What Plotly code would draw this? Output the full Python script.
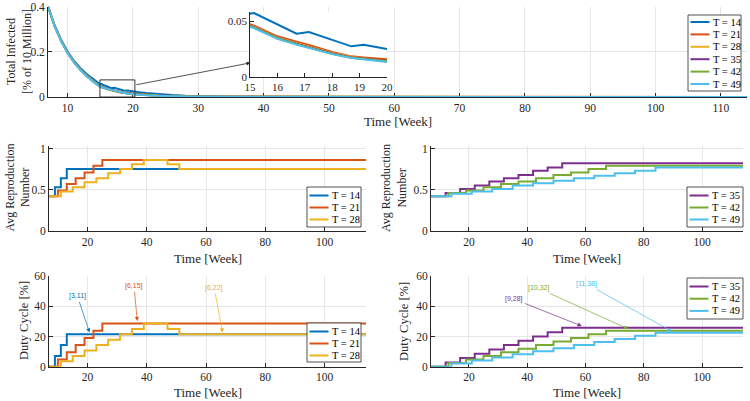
import plotly.graph_objects as go

W, H = 750, 401
SERIF = "Liberation Serif"
AXC = "#262626"

labels = ["T = 14", "T = 21", "T = 28", "T = 35", "T = 42", "T = 49"]
colors = ["#0072BD", "#D95319", "#EDB120", "#7E2F8E", "#77AC30", "#4DBEEE"]

# ---- Total infected (% of 10 million) ----
weeks_inf = [7, 8, 9, 10, 11, 12, 13, 14, 15, 15.15, 16, 16.7, 17.15, 18, 18.7, 19.15, 20,
             21, 22, 23, 24, 25, 26, 28, 30, 35, 40, 50, 60, 80, 100, 114]
inf_T14 = [0.400, 0.318, 0.253, 0.201, 0.159, 0.126, 0.099, 0.076, 0.0564, 0.0570, 0.0470, 0.0387,
           0.0403, 0.0333, 0.0275, 0.0290, 0.0242, 0.0205, 0.0172, 0.0144, 0.0120, 0.0100, 0.0084,
           0.0059, 0.0041, 0.0016, 0.0007, 0.0003, 0.0002, 0.0001, 0.0001, 0.0001]
inf_T21 = [0.400, 0.316, 0.250, 0.197, 0.155, 0.121, 0.094, 0.068, 0.0473, 0.0458, 0.0364, 0.0316,
           0.0288, 0.0226, 0.0186, 0.0176, 0.0151, 0.0124, 0.0101, 0.0083, 0.0068, 0.0056, 0.0046,
           0.0032, 0.0023, 0.0012, 0.0010, 0.0008, 0.0006, 0.0004, 0.0003, 0.0003]
inf_T28 = [0.400, 0.315, 0.249, 0.196, 0.154, 0.120, 0.092, 0.067, 0.0460, 0.0448, 0.0352, 0.0300,
           0.0272, 0.0215, 0.0180, 0.0163, 0.0136, 0.0110, 0.0089, 0.0072, 0.0058, 0.0047, 0.0038,
           0.0025, 0.0017, 0.0007, 0.0004, 0.0002, 0.0001, 0.0001, 0.0001, 0.0001]
inf_T35 = [0.400, 0.315, 0.249, 0.195, 0.153, 0.119, 0.091, 0.066, 0.0455, 0.0443, 0.0348, 0.0296,
           0.0268, 0.0211, 0.0176, 0.0160, 0.0132, 0.0107, 0.0086, 0.0069, 0.0056, 0.0045, 0.0036,
           0.0024, 0.0016, 0.0006, 0.0003, 0.0001, 0.0001, 0.0001, 0.0001, 0.0001]
inf_T42 = [0.400, 0.314, 0.248, 0.195, 0.153, 0.119, 0.091, 0.066, 0.0451, 0.0440, 0.0345, 0.0293,
           0.0265, 0.0208, 0.0174, 0.0158, 0.0127, 0.0103, 0.0083, 0.0067, 0.0054, 0.0043, 0.0035,
           0.0023, 0.0015, 0.0006, 0.0003, 0.0001, 0.0001, 0.0001, 0.0001, 0.0001]
inf_T49 = [0.400, 0.314, 0.248, 0.194, 0.152, 0.118, 0.090, 0.065, 0.0448, 0.0437, 0.0342, 0.0290,
           0.0262, 0.0206, 0.0172, 0.0156, 0.0121, 0.0098, 0.0079, 0.0064, 0.0052, 0.0042, 0.0034,
           0.0022, 0.0014, 0.0005, 0.0002, 0.0001, 0.0001, 0.0001, 0.0001, 0.0001]
inf_all = [inf_T14, inf_T21, inf_T28, inf_T35, inf_T42, inf_T49]

# ---- Step changes (week of change) with Avg reproduction number and duty cycle ----
wk_T14 = [7, 9, 11, 13, 114]
R_T14 = [0.42, 0.53, 0.64, 0.75, 0.75]
D_T14 = [0, 7.14, 14.29, 21.43, 21.43]

wk_T21 = [7, 10, 13, 16, 19, 22, 25, 114]
R_T21 = [0.42, 0.49, 0.57, 0.64, 0.71, 0.79, 0.86, 0.86]
D_T21 = [0, 4.76, 9.52, 14.29, 19.05, 23.81, 28.57, 28.57]

wk_T28 = [7, 11, 15, 19, 23, 27, 31, 35, 39, 47, 51, 114]
R_T28 = [0.42, 0.48, 0.53, 0.59, 0.64, 0.70, 0.75, 0.81, 0.86, 0.81, 0.75, 0.75]
D_T28 = [0, 3.57, 7.14, 10.71, 14.29, 17.86, 21.43, 25.0, 28.57, 25.0, 21.43, 21.43]

wk_T35 = [7, 12, 17, 22, 27, 32, 37, 42, 47, 52, 114]
R_T35 = [0.42, 0.46, 0.51, 0.55, 0.60, 0.64, 0.68, 0.73, 0.77, 0.82, 0.82]
D_T35 = [0, 2.86, 5.71, 8.57, 11.43, 14.29, 17.14, 20.0, 22.86, 25.71, 25.71]

wk_T42 = [7, 13, 19, 25, 31, 37, 43, 49, 55, 61, 67, 114]
R_T42 = [0.42, 0.46, 0.49, 0.53, 0.57, 0.60, 0.64, 0.68, 0.71, 0.75, 0.79, 0.79]
D_T42 = [0, 2.38, 4.76, 7.14, 9.52, 11.90, 14.29, 16.67, 19.05, 21.43, 23.81, 23.81]

wk_T49 = [7, 14, 21, 28, 35, 42, 49, 56, 63, 70, 77, 84, 114]
R_T49 = [0.42, 0.45, 0.48, 0.51, 0.55, 0.58, 0.61, 0.64, 0.67, 0.70, 0.73, 0.77, 0.77]
D_T49 = [0, 2.04, 4.08, 6.12, 8.16, 10.20, 12.24, 14.29, 16.33, 18.37, 20.41, 22.45, 22.45]

wk_all = [wk_T14, wk_T21, wk_T28, wk_T35, wk_T42, wk_T49]
R_all = [R_T14, R_T21, R_T28, R_T35, R_T42, R_T49]
D_all = [D_T14, D_T21, D_T28, D_T35, D_T42, D_T49]

# annotations: (text, series index, text x, text y, arrow x, arrow y)
duty_notes = [("[3,11]", 0, 16.6, 46.5, 20.7, 22.6),
              ("[6,15]", 1, 35.7, 53.4, 36.8, 30.2),
              ("[6,22]", 2, 62.8, 51.9, 65.6, 22.6),
              ("[9,28]", 3, 35.6, 44.6, 58.7, 26.9),
              ("[10,32]", 4, 43.8, 51.9, 74.6, 25.0),
              ("[11,38]", 5, 60.4, 54.7, 89.6, 23.4)]

fig = go.Figure()

# top main + inset
for i in range(6):
    fig.add_trace(go.Scatter(x=weeks_inf, y=inf_all[i], mode="lines", name=labels[i],
                             line=dict(color=colors[i], width=2), showlegend=False,
                             xaxis="x", yaxis="y"))
for i in range(6):
    fig.add_trace(go.Scatter(x=weeks_inf, y=inf_all[i], mode="lines", name=labels[i],
                             line=dict(color=colors[i], width=2), showlegend=False,
                             xaxis="x2", yaxis="y2"))
# middle and bottom
for i in range(6):
    xa_r = "x3" if i < 3 else "x4"
    ya_r = "y3" if i < 3 else "y4"
    xa_d = "x5" if i < 3 else "x6"
    ya_d = "y5" if i < 3 else "y6"
    fig.add_trace(go.Scatter(x=wk_all[i], y=R_all[i], mode="lines", line_shape="hv",
                             name=labels[i], line=dict(color=colors[i], width=2),
                             showlegend=False, xaxis=xa_r, yaxis=ya_r))
    fig.add_trace(go.Scatter(x=wk_all[i], y=D_all[i], mode="lines", line_shape="hv",
                             name=labels[i], line=dict(color=colors[i], width=2),
                             showlegend=False, xaxis=xa_d, yaxis=ya_d))


def px_x(p):
    return p / W


def px_y(p):
    return 1 - p / H


def ax_style(**kw):
    d = dict(showline=True, linecolor=AXC, linewidth=0.8, ticks="inside", ticklen=4,
             tickcolor=AXC, tickwidth=0.8, showgrid=True, gridcolor="#e6e6e6", gridwidth=0.7,
             zeroline=False, tickfont=dict(family=SERIF, size=11.5, color=AXC),
             layer="below traces", fixedrange=True, automargin=False, mirror=False,
             ticklabeloverflow="allow")
    d.update(kw)
    return d


xr = [7, 114]
layout = dict(
    template="none",
    width=W, height=H, margin=dict(l=0, r=0, t=0, b=0, pad=0),
    font=dict(family=SERIF, size=12, color=AXC),
    paper_bgcolor="white", plot_bgcolor="white", showlegend=False,
    xaxis=ax_style(domain=[px_x(48), px_x(747)], range=xr, tickvals=list(range(10, 111, 10)), anchor="y"),
    yaxis=ax_style(domain=[px_y(97), px_y(6.5)], range=[0, 0.4], tickvals=[0, 0.2, 0.4],
                   ticktext=["0", "0.2", "0.4"], anchor="x"),
    xaxis2=ax_style(domain=[px_x(250), px_x(387)], range=[15, 20], tickvals=[15, 16, 17, 18, 19, 20],
                    anchor="y2", showgrid=False, tickfont=dict(family=SERIF, size=11, color=AXC)),
    yaxis2=ax_style(domain=[px_y(77.3), px_y(12)], range=[0, 0.058], tickvals=[0, 0.05],
                    ticktext=["0", "0.05"], anchor="x2", showgrid=False,
                    tickfont=dict(family=SERIF, size=11, color=AXC)),
    xaxis3=ax_style(domain=[px_x(49), px_x(366)], range=xr, tickvals=[20, 40, 60, 80, 100], anchor="y3"),
    yaxis3=ax_style(domain=[px_y(231), px_y(146)], range=[0, 1.03], tickvals=[0, 0.5, 1],
                    ticktext=["0", "0.5", "1"], anchor="x3"),
    xaxis4=ax_style(domain=[px_x(431), px_x(743)], range=xr, tickvals=[20, 40, 60, 80, 100], anchor="y4"),
    yaxis4=ax_style(domain=[px_y(231), px_y(146)], range=[0, 1.03], tickvals=[0, 0.5, 1],
                    ticktext=["0", "0.5", "1"], anchor="x4"),
    xaxis5=ax_style(domain=[px_x(49), px_x(366)], range=xr, tickvals=[20, 40, 60, 80, 100], anchor="y5"),
    yaxis5=ax_style(domain=[px_y(366.7), px_y(276)], range=[0, 60], tickvals=[0, 20, 40, 60], anchor="x5"),
    xaxis6=ax_style(domain=[px_x(431), px_x(743)], range=xr, tickvals=[20, 40, 60, 80, 100], anchor="y6"),
    yaxis6=ax_style(domain=[px_y(366.7), px_y(276)], range=[0, 60], tickvals=[0, 20, 40, 60], anchor="x6"),
)
fig.update_layout(**layout)

shapes = []
annots = []

# zoom rectangle + arrow to inset
shapes.append(dict(type="rect", xref="x", yref="y", x0=14.95, x1=20.3, y0=0, y1=0.0756,
                   line=dict(color="#333333", width=1), layer="above"))
annots.append(dict(xref="x", yref="y", axref="x", ayref="y", x=38.0, y=0.151, ax=20.3, ay=0.053,
                   text="", showarrow=True, arrowhead=2, arrowsize=1, arrowwidth=0.8,
                   arrowcolor="#262626"))


def title(text, xp, yp, size, angle=0):
    annots.append(dict(xref="paper", yref="paper", x=px_x(xp), y=px_y(yp), text=text,
                       showarrow=False, textangle=angle, xanchor="center", yanchor="middle",
                       font=dict(family=SERIF, size=size, color=AXC)))


title("Total Infected<br>[% of 10 Million]", 19, 52, 12, -90)
title("Time [Week]", 397.5, 121.5, 13)
title("Avg Reproduction<br>Number", 17.5, 188, 12, -90)
title("Avg Reproduction<br>Number", 394, 188, 12, -90)
title("Time [Week]", 207.5, 258, 13)
title("Time [Week]", 587, 258, 13)
title("Duty Cycle [%]", 24, 321, 12.5, -90)
title("Duty Cycle [%]", 404, 321, 12.5, -90)
title("Time [Week]", 207.5, 392.5, 13)
title("Time [Week]", 587, 392.5, 13)

# duty-cycle annotations
for txt, si, tx, ty, hx, hy in duty_notes:
    xa = "x5" if si < 3 else "x6"
    ya = "y5" if si < 3 else "y6"
    annots.append(dict(xref=xa, yref=ya, axref=xa, ayref=ya, x=hx, y=hy, ax=tx, ay=ty,
                       text=txt, showarrow=True, arrowhead=2, arrowsize=1.2, arrowwidth=0.7,
                       arrowcolor=colors[si], standoff=0,
                       font=dict(family="Liberation Sans", size=7, color=colors[si])))


def legend_box(x0, y0, x1, y1, idx, first, step):
    shapes.append(dict(type="rect", xref="paper", yref="paper", x0=px_x(x0), x1=px_x(x1),
                       y0=px_y(y1), y1=px_y(y0), line=dict(color=AXC, width=0.8),
                       fillcolor="white", layer="above"))
    for k, i in enumerate(idx):
        yy = y0 + first + step * k
        shapes.append(dict(type="line", xref="paper", yref="paper", x0=px_x(x0 + 2.5),
                           x1=px_x(x0 + 21.5), y0=px_y(yy), y1=px_y(yy),
                           line=dict(color=colors[i], width=2), layer="above"))
        annots.append(dict(xref="paper", yref="paper", x=px_x(x0 + 22.5), y=px_y(yy),
                           text=labels[i], showarrow=False, xanchor="left", yanchor="middle",
                           font=dict(family=SERIF, size=10.5, color="black")))


legend_box(688, 15, 741, 91, [0, 1, 2, 3, 4, 5], 7, 12.4)
legend_box(307, 187, 361, 227, [0, 1, 2], 8.5, 12)
legend_box(687, 187, 743, 227, [3, 4, 5], 8.5, 12)
legend_box(307, 323, 361, 362, [0, 1, 2], 8.5, 12)
legend_box(687, 278, 743, 319, [3, 4, 5], 8.5, 12.2)

fig.update_layout(shapes=shapes, annotations=annots)
fig.write_html("out.html", config={"displayModeBar": False},
               post_script="document.body.style.margin='0';document.body.style.overflow='hidden';")
